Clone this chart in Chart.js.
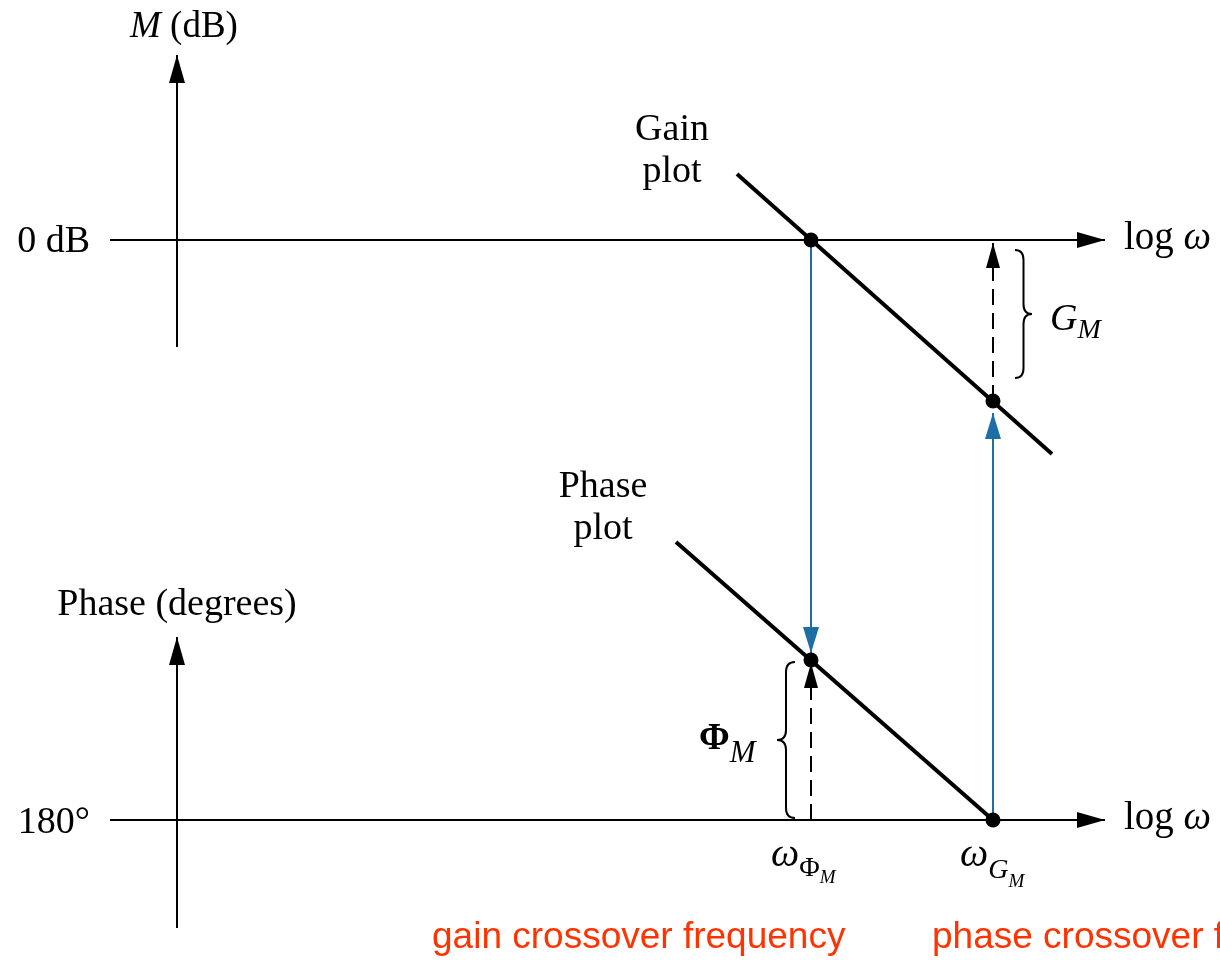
<!DOCTYPE html>
<html>
<head>
<meta charset="utf-8">
<script src="https://cdn.jsdelivr.net/npm/chart.js@4/dist/chart.umd.min.js"></script>
<style>
html, body { margin: 0; padding: 0; background: #fff; }
#box { width: 1220px; height: 960px; }
</style>
</head>
<body>
<div id="box"><canvas id="bode" width="1220" height="960"></canvas></div>
<script>
// diagram units: x runs along log w, y runs down the page
var magAxis = [[177, 347], [177, 55]];
var zeroDbAxis = [[110, 240], [1105, 240]];
var phaseAxis = [[177, 928], [177, 637]];
var deg180Axis = [[110, 820], [1105, 820]];
var gainPlot = [[737, 174], [1052, 454]];
var phasePlot = [[676, 542], [993, 820]];
var gainCrossDrop = [[811, 240], [811, 653]];
var phaseCrossRise = [[993, 820], [993, 413]];
var gainMargin = [[993, 401], [993, 243]];
var phaseMargin = [[811, 820], [811, 663]];
var crossPoints = [[811, 240], [993, 401], [811, 660], [993, 820]];
// [end x, tip x, top y, bottom y]
var braces = [[1015, 1032, 250, 378], [795, 777, 662, 818]];

var SERIF = '"Liberation Serif", "Times New Roman", serif';
var SANS = '"Liberation Sans", Arial, sans-serif';
var BLUE = '#1c6ea4';
var RED = '#ff3300';

var labels = [
    { x: 130, y: 37, align: 'left', runs: [['M', 'italic 37px ' + SERIF], [' (dB)', '37px ' + SERIF]] },
    { x: 90, y: 252, align: 'right', runs: [['0 dB', '38px ' + SERIF]] },
    { x: 1124, y: 249, align: 'left', runs: [['log ', '39px ' + SERIF], ['\u03c9', 'italic 39px ' + SERIF]] },
    { x: 1124, y: 829, align: 'left', runs: [['log ', '39px ' + SERIF], ['\u03c9', 'italic 39px ' + SERIF]] },
    { x: 90, y: 833, align: 'right', runs: [['180\u00b0', '38px ' + SERIF]] },
    { x: 672, y: 140, align: 'center', runs: [['Gain', '38px ' + SERIF]] },
    { x: 672, y: 182, align: 'center', runs: [['plot', '38px ' + SERIF]] },
    { x: 603, y: 497, align: 'center', runs: [['Phase', '38px ' + SERIF]] },
    { x: 603, y: 539, align: 'center', runs: [['plot', '38px ' + SERIF]] },
    { x: 177, y: 615, align: 'center', runs: [['Phase (degrees)', '38px ' + SERIF]] },
    { x: 1050, y: 330, align: 'left', runs: [['G', 'italic 38px ' + SERIF], ['M', 'italic 28px ' + SERIF, 8]] },
    { x: 699, y: 749, align: 'left', runs: [['\u03a6', 'bold 37px ' + SERIF], ['M', 'italic 31px ' + SERIF, 13]] },
    { x: 771, y: 866, align: 'left', runs: [['\u03c9', 'italic 40px ' + SERIF], ['\u03a6', '28px ' + SERIF, 10], ['M', 'italic 19px ' + SERIF, 17]] },
    { x: 960, y: 866, align: 'left', runs: [['\u03c9', 'italic 40px ' + SERIF], ['G', 'italic 28px ' + SERIF, 12], ['M', 'italic 19px ' + SERIF, 21]] },
    { x: 432, y: 948, align: 'left', color: RED, runs: [['gain crossover frequency', '37px ' + SANS]] },
    { x: 932, y: 948, align: 'left', color: RED, runs: [['phase crossover frequency', '37px ' + SANS]] }
];

function pts(list) {
    return list.map(function (p) { return { x: p[0], y: p[1] }; });
}

function seg(list, color, width, opts) {
    var ds = {
        data: pts(list),
        showLine: true,
        borderColor: color,
        borderWidth: width,
        pointRadius: 0,
        fill: false
    };
    for (var k in opts) ds[k] = opts[k];
    return ds;
}

// first dataset ends up on top
var datasets = [
    { data: pts(crossPoints), showLine: false, pointRadius: 7.5, pointBackgroundColor: '#000', pointBorderWidth: 0 },
    seg(gainPlot, '#000', 4),
    seg(phasePlot, '#000', 4),
    seg(gainMargin, '#000', 2, { borderDash: [16, 8], arrow: [25, 7] }),
    seg(phaseMargin, '#000', 2, { borderDash: [16, 8], arrow: [25, 7] }),
    seg(gainCrossDrop, BLUE, 2, { arrow: [26, 8] }),
    seg(phaseCrossRise, BLUE, 2, { arrow: [26, 8] }),
    seg(magAxis, '#000', 2, { arrow: [28, 8] }),
    seg(zeroDbAxis, '#000', 2, { arrow: [28, 8] }),
    seg(phaseAxis, '#000', 2, { arrow: [28, 8] }),
    seg(deg180Axis, '#000', 2, { arrow: [28, 8] })
];

function drawRuns(ctx, lab) {
    var widths = lab.runs.map(function (r) { ctx.font = r[1]; return ctx.measureText(r[0]).width; });
    var total = widths.reduce(function (a, b) { return a + b; }, 0);
    var cx = lab.align === 'center' ? lab.x - total / 2 : lab.align === 'right' ? lab.x - total : lab.x;
    lab.runs.forEach(function (r, i) {
        ctx.font = r[1];
        ctx.fillText(r[0], cx, lab.y + (r[2] || 0));
        cx += widths[i];
    });
}

var extras = {
    id: 'extras',
    afterDatasetDraw: function (chart, args) {
        var ds = chart.data.datasets[args.index];
        if (!ds.arrow) return;
        var pts = args.meta.data;
        var a = pts[pts.length - 2], b = pts[pts.length - 1];
        var dx = b.x - a.x, dy = b.y - a.y, d = Math.hypot(dx, dy);
        var ux = dx / d, uy = dy / d;
        var len = ds.arrow[0], half = ds.arrow[1];
        var bx = b.x - ux * len, by = b.y - uy * len;
        var ctx = chart.ctx;
        ctx.save();
        ctx.fillStyle = ds.borderColor;
        ctx.beginPath();
        ctx.moveTo(b.x, b.y);
        ctx.lineTo(bx - uy * half, by + ux * half);
        ctx.lineTo(bx + uy * half, by - ux * half);
        ctx.closePath();
        ctx.fill();
        ctx.restore();
    },
    afterDatasetsDraw: function (chart) {
        var ctx = chart.ctx, sx = chart.scales.x, sy = chart.scales.y;
        ctx.save();
        ctx.strokeStyle = '#000';
        ctx.lineWidth = 2;
        braces.forEach(function (b) {
            var x0 = sx.getPixelForValue(b[0]), xt = sx.getPixelForValue(b[1]);
            var y1 = sy.getPixelForValue(b[2]), y2 = sy.getPixelForValue(b[3]);
            var ym = (y1 + y2) / 2, xh = (x0 + xt) / 2, r = 10;
            ctx.beginPath();
            ctx.moveTo(x0, y1);
            ctx.quadraticCurveTo(xh, y1, xh, y1 + r);
            ctx.lineTo(xh, ym - r);
            ctx.quadraticCurveTo(xh, ym, xt, ym);
            ctx.quadraticCurveTo(xh, ym, xh, ym + r);
            ctx.lineTo(xh, y2 - r);
            ctx.quadraticCurveTo(xh, y2, x0, y2);
            ctx.stroke();
        });
        ctx.textBaseline = 'alphabetic';
        ctx.textAlign = 'left';
        labels.forEach(function (lab) {
            ctx.fillStyle = lab.color || '#000';
            drawRuns(ctx, {
                x: sx.getPixelForValue(lab.x),
                y: sy.getPixelForValue(lab.y),
                align: lab.align,
                runs: lab.runs
            });
        });
        ctx.restore();
    }
};

new Chart(document.getElementById('bode'), {
    type: 'scatter',
    data: { datasets: datasets },
    options: {
        responsive: false,
        animation: false,
        layout: { padding: 0, autoPadding: false },
        elements: { line: { tension: 0 } },
        plugins: { legend: { display: false }, tooltip: { enabled: false } },
        scales: {
            x: { type: 'linear', min: 0, max: 1220, display: false },
            y: { type: 'linear', min: 0, max: 960, reverse: true, display: false }
        }
    },
    plugins: [extras]
});
</script>
</body>
</html>
